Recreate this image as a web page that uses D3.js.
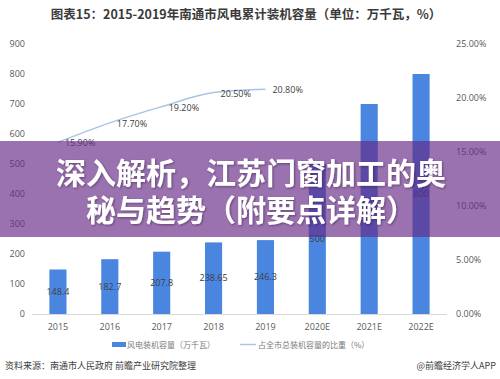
<!DOCTYPE html>
<html>
<head>
<meta charset="utf-8">
<script src="https://cdn.jsdelivr.net/npm/d3@7/dist/d3.min.js"></script>
<style>
  html, body { margin: 0; padding: 0; background: #fff; }
  svg { display: block; font-family: "Noto Sans CJK SC", "Noto Sans", sans-serif; }
</style>
</head>
<body>
<svg id="chart" width="500" height="379"></svg>
<script>
const categories = ["2015", "2016", "2017", "2018", "2019", "2020E", "2021E", "2022E"];
const capacity = [148.4, 182.7, 207.8, 238.65, 246.3, 500, 700, 800];
const capacityLabels = ["148.4", "182.7", "207.8", "238.65", "246.3", "500", "700", "800"];
const shareCategories = ["2015", "2016", "2017", "2018", "2019"];
const share = [0.159, 0.177, 0.192, 0.205, 0.208];
const leftTicks = [0, 100, 200, 300, 400, 500, 600, 700, 800, 900];
const rightTicks = [0, 0.05, 0.10, 0.15, 0.20, 0.25];
const titleText = "图表15：2015-2019年南通市风电累计装机容量（单位：万千瓦，%）";
const legendNames = ["风电装机容量（万千瓦）", "占全市总装机容量的比重（%）"];
const sourceText = "资料来源：南通市人民政府 前瞻产业研究院整理";
const brandText = "@前瞻经济学人APP";
const bannerLines = ["深入解析，江苏门窗加工的奥", "秘与趋势（附要点详解）"];

const svg = d3.select("#chart");

const defs = svg.append("defs");
const f = defs.append("filter").attr("id", "shadow").attr("x", "-5%").attr("y", "-20%").attr("width", "110%").attr("height", "140%");
f.append("feDropShadow").attr("dx", 1).attr("dy", 1).attr("stdDeviation", 0.8)
  .attr("flood-color", "#2a1038").attr("flood-opacity", 0.5);

const x = d3.scaleBand().domain(categories).range([32, 447]).paddingInner(0.67).paddingOuter(0.335);
const y = d3.scaleLinear().domain([0, 900]).range([314, 44]);
const y2 = d3.scaleLinear().domain([0, 0.25]).range([314, 44]);

// title
svg.append("text").attr("x", 246).attr("y", 19).attr("text-anchor", "middle")
  .attr("font-size", 12.5).attr("font-weight", "bold").attr("fill", "#3a3a3a").text(titleText);

// left axis
const gl = svg.append("g").attr("transform", "translate(25,0)")
  .call(d3.axisLeft(y).tickValues(leftTicks).tickSize(0).tickPadding(0).tickFormat(d3.format("d")));
gl.select(".domain").remove();
gl.selectAll("text").attr("font-size", 9).attr("fill", "#595959").attr("font-family", "'Open Sans', sans-serif");

// right axis
const gr = svg.append("g").attr("transform", "translate(456,0)")
  .call(d3.axisRight(y2).tickValues(rightTicks).tickSize(0).tickPadding(0).tickFormat(d3.format(".2%")));
gr.select(".domain").remove();
gr.selectAll("text").attr("font-size", 9).attr("fill", "#595959").attr("font-family", "'Open Sans', sans-serif");

// bottom axis
const gb = svg.append("g").attr("transform", "translate(0,314)")
  .call(d3.axisBottom(x).tickSize(0).tickPadding(10));
gb.select(".domain").attr("stroke", "#d9d9d9").attr("d", "M32,0.5H447");
gb.selectAll("text").attr("font-size", 9).attr("fill", "#595959").attr("font-family", "'Open Sans', sans-serif");

// bars
svg.append("g").selectAll("rect").data(categories).join("rect")
  .attr("x", d => x(d)).attr("width", x.bandwidth())
  .attr("y", (d, i) => y(capacity[i])).attr("height", (d, i) => y(0) - y(capacity[i]))
  .attr("fill", "#4a86e0");

// bar labels
svg.append("g").selectAll("text").data(categories).join("text")
  .attr("x", d => x(d) + x.bandwidth() / 2)
  .attr("y", (d, i) => (y(0) + y(capacity[i])) / 2 + 3)
  .attr("text-anchor", "middle").attr("font-size", 9).attr("fill", "#404040")
  .attr("font-family", "'Open Sans', sans-serif")
  .text((d, i) => capacityLabels[i]);

// line
const line = d3.line()
  .x((d, i) => x(shareCategories[i]) + x.bandwidth() / 2)
  .y(d => y2(d))
  .curve(d3.curveMonotoneX);
svg.append("path").datum(share).attr("d", line)
  .attr("fill", "none").attr("stroke", "#a8c4e6").attr("stroke-width", 1.5);

svg.append("g").selectAll("text").data(share).join("text")
  .attr("x", (d, i) => x(shareCategories[i]) + x.bandwidth() / 2 + 7)
  .attr("y", d => y2(d) + 4)
  .attr("font-size", 9).attr("fill", "#404040").attr("font-family", "'Open Sans', sans-serif")
  .text(d => d3.format(".2%")(d));

// legend
const lg = svg.append("g");
lg.append("rect").attr("x", 112).attr("y", 342).attr("width", 14).attr("height", 5).attr("fill", "#4a86e0");
lg.append("text").attr("x", 127).attr("y", 348).attr("font-size", 8).attr("fill", "#7a7a7a").text(legendNames[0]);
lg.append("line").attr("x1", 240).attr("x2", 256).attr("y1", 344.5).attr("y2", 344.5).attr("stroke", "#a8c4e6").attr("stroke-width", 1.5);
lg.append("text").attr("x", 258).attr("y", 348).attr("font-size", 8).attr("fill", "#7a7a7a").text(legendNames[1]);

// footer
svg.append("text").attr("x", 5).attr("y", 369).attr("font-size", 9).attr("fill", "#404040").text(sourceText);
svg.append("text").attr("x", 496).attr("y", 369).attr("text-anchor", "end").attr("font-size", 9).attr("fill", "#404040").text(brandText);

// banner overlay
svg.append("rect").attr("x", 0).attr("y", 141).attr("width", 500).attr("height", 96)
  .attr("fill", "rgb(101,38,133)").attr("fill-opacity", 0.65);
const bt = svg.append("g").attr("font-size", 30).attr("font-weight", "bold").attr("text-anchor", "middle")
  .attr("font-family", "'Noto Sans CJK SC', sans-serif").attr("filter", "url(#shadow)");
bannerLines.forEach((t, i) => {
  bt.append("text").attr("x", 251).attr("y", 184 + i * 37).attr("fill", "#ffffff").text(t);
});
</script>
</body>
</html>
